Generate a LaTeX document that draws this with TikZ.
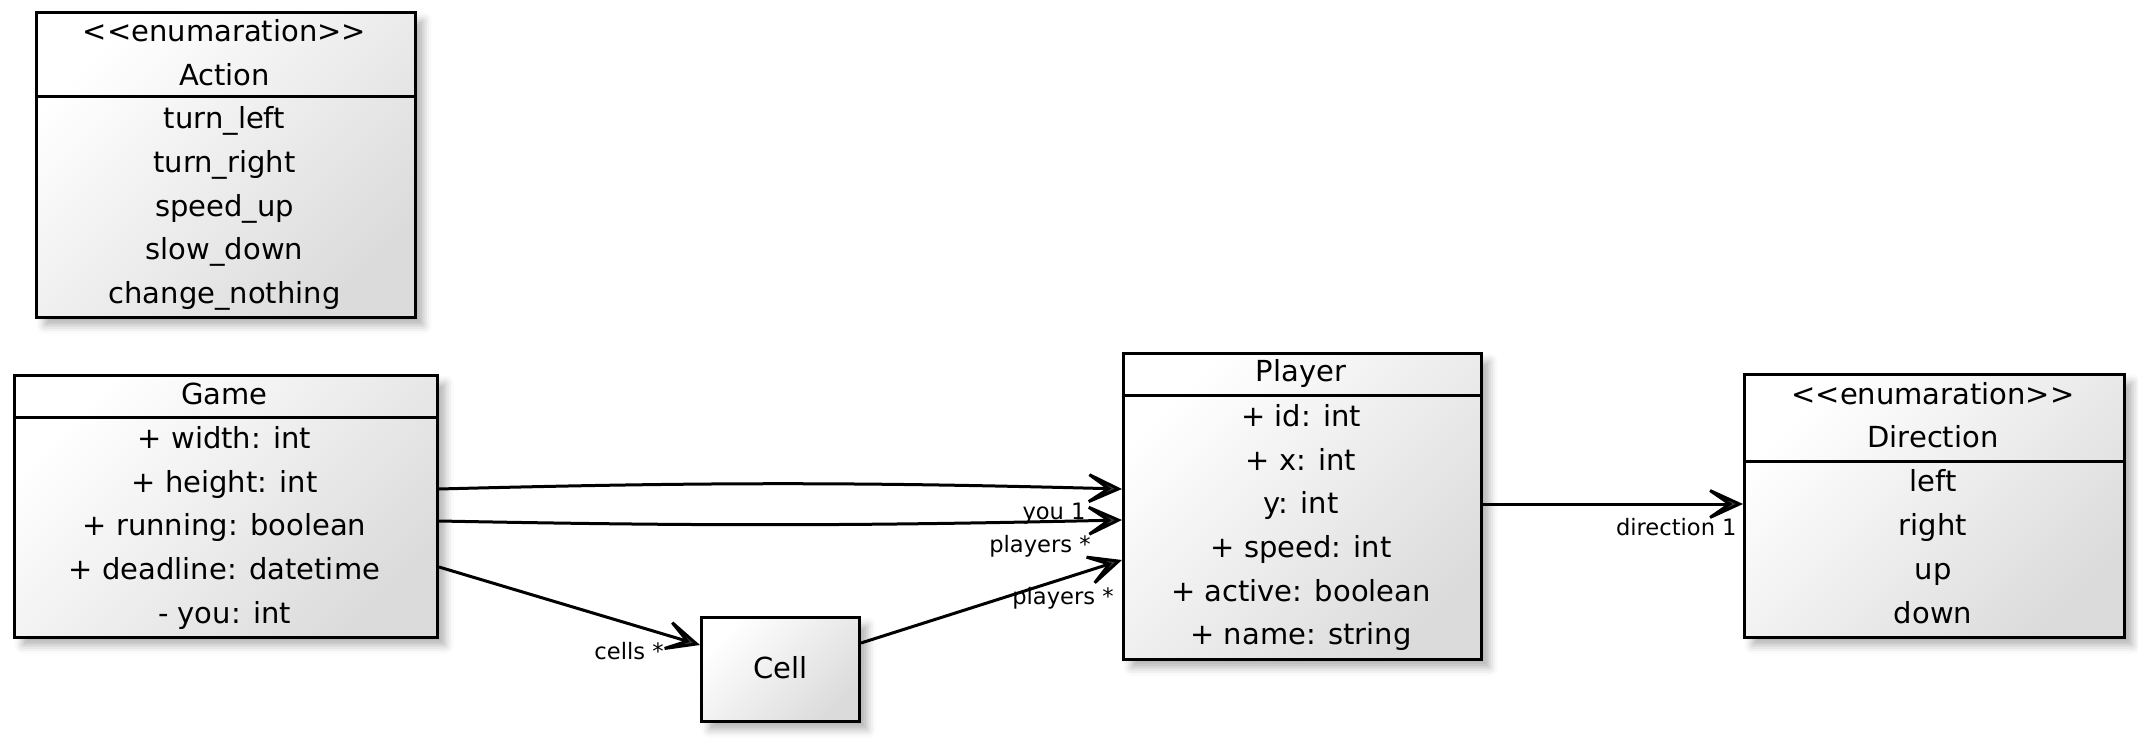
\documentclass[tikz,border=0pt]{standalone}
\usepackage{fontspec}
\setmainfont{DejaVu Sans}
\usetikzlibrary{shadows.blur,arrows.meta,calc}
\begin{document}
\begin{tikzpicture}[x=0.5pt,y=-0.5pt,
  box/.style={draw=black, line width=1.5pt, top color=white, bottom color=black!14, shading angle=45,
    blur shadow={shadow xshift=4pt, shadow yshift=-4pt, shadow blur radius=4pt, shadow opacity=30},
    anchor=north west, inner sep=0pt, rectangle},
  txt/.style={font=\fontsize{14.5pt}{17pt}\selectfont, text height=1.14em, text depth=0.25em, inner sep=0pt},
  lbl/.style={font=\fontsize{11.3pt}{13pt}\selectfont, text height=0.95em, text depth=0.25em, inner sep=0pt, anchor=east},
  conn/.style={line width=1.5pt, -{Stealth[length=24pt,width=22pt,inset=16pt,fill=black!75]}},
  divider/.style={line width=1.5pt}]
\useasboundingbox (0,0) rectangle (2138,738);

% Action
\node[box, minimum width=189.5pt, minimum height=152.5pt] (action) at (35,11) {};
\draw[divider] (action.west |- 0,97) -- (action.east |- 0,97);
\node[txt] (a0) at (224.5,33) {<\kern0pt<enumaration>\kern0pt>};
\node[txt] (a1) at (224.5,77) {Action};
\node[txt] (a2) at (224.5,120) {turn\_left};
\node[txt] (a3) at (224.5,164) {turn\_right};
\node[txt] (a4) at (224.5,208) {speed\_up};
\node[txt] (a5) at (224.5,251) {slow\_down};
\node[txt] (a6) at (224.5,295) {change\_nothing};

% Game
\node[box, minimum width=211.5pt, minimum height=131pt] (game) at (13,374) {};
\draw[divider] (game.west |- 0,417) -- (game.east |- 0,417);
\node[txt] (g0) at (224.5,396) {Game};
\node[txt] (g1) at (224.5,440) {+ width: int};
\node[txt] (g2) at (224.5,484) {+ height: int};
\node[txt] (g3) at (224.5,527) {+ running: boolean};
\node[txt] (g4) at (224.5,571) {+ deadline: datetime};
\node[txt] (g5) at (224.5,615) {- you: int};

% Cell
\node[box, txt, minimum width=79pt, minimum height=52pt] (cell) at (700,616) {Cell};

% Player
\node[box, minimum width=179pt, minimum height=153pt] (player) at (1122,352) {};
\draw[divider] (player.west |- 0,395) -- (player.east |- 0,395);
\node[txt] (p0) at (1301,373) {Player};
\node[txt] (p1) at (1301,418) {+ id: int};
\node[txt] (p2) at (1301,462) {+ x: int};
\node[txt] (p3) at (1301,505) {y: int};
\node[txt] (p4) at (1301,549) {+ speed: int};
\node[txt] (p5) at (1301,593) {+ active: boolean};
\node[txt] (p6) at (1301,636) {+ name: string};

% Direction
\node[box, minimum width=190pt, minimum height=131.5pt] (dir) at (1743,373) {};
\draw[divider] (dir.west |- 0,461) -- (dir.east |- 0,461);
\node[txt] (d0) at (1933,396) {<\kern0pt<enumaration>\kern0pt>};
\node[txt] (d1) at (1933,439) {Direction};
\node[txt] (d2) at (1933,483) {left};
\node[txt] (d3) at (1933,527) {right};
\node[txt] (d4) at (1933,571) {up};
\node[txt] (d5) at (1933,615) {down};

% connectors
\draw[conn] ($(game.north east)+(0,115)$) to[bend left=1.5] ($(player.north west)+(0,137)$);
\draw[conn] ($(game.north east)+(0,147)$) to[bend right=1.2] ($(player.north west)+(0,168)$);
\draw[conn] ($(game.north east)+(0,193)$) -- ($(cell.north west)+(0,29)$);
\draw[conn] ($(cell.north east)+(0,27)$) -- ($(player.north west)+(0,208)$);
\draw[conn] ($(player.north east)+(0,152)$) -- ($(dir.north west)+(0,131)$);

% labels
\node[lbl] (l1) at (1086,512) {you 1};
\node[lbl] (l2) at (1091,545) {players *};
\node[lbl] (l3) at (1114,597) {players *};
\node[lbl] (l4) at (664,652) {cells *};
\node[lbl] (l5) at (1737,528) {direction 1};
\end{tikzpicture}
\end{document}
